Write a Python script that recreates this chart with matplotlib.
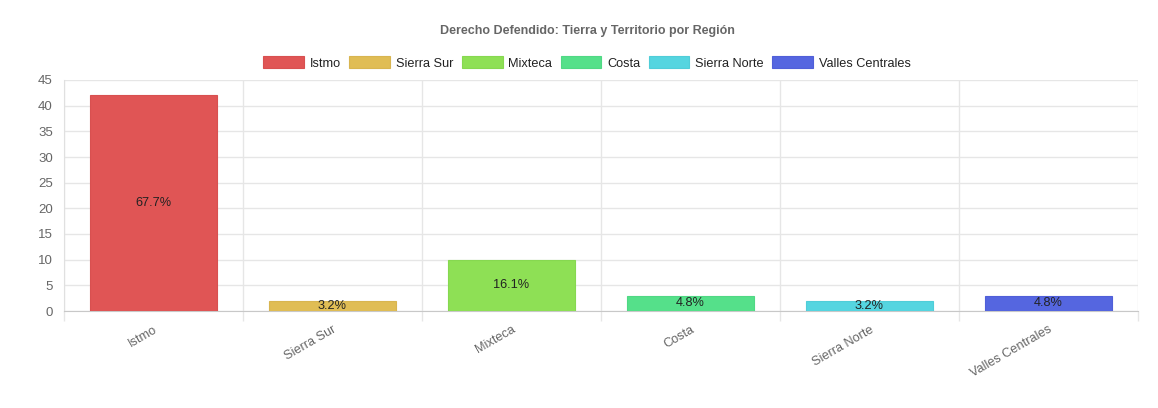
import matplotlib
matplotlib.use("Agg")
import matplotlib.pyplot as plt
from matplotlib.patches import Patch
import numpy as np

regions = ["Istmo", "Sierra Sur", "Mixteca", "Costa", "Sierra Norte", "Valles Centrales"]
counts = [42, 2, 10, 3, 2, 3]
percent_labels = ["67.7%", "3.2%", "16.1%", "4.8%", "3.2%", "4.8%"]
fill_colors = ["#e05555", "#e0bd55", "#8ee055", "#55e08a", "#55d5e0", "#5566e0"]
edge_colors = ["#d85050", "#d8b550", "#86d850", "#50d884", "#50cdd8", "#505fd8"]
y_ticks = [0, 5, 10, 15, 20, 25, 30, 35, 40, 45]

plt.rcParams["font.family"] = ["Liberation Sans", "DejaVu Sans"]

fig = plt.figure(figsize=(11.58, 4.08), dpi=100)
W, H = 1158, 408
left, right, top, bottom = 64, 1138, 80, 311
ax = fig.add_axes([left / W, (H - bottom) / H, (right - left) / W, (bottom - top) / H])

x = np.arange(len(regions))
bars = ax.bar(x, counts, width=0.71, color=fill_colors, edgecolor=edge_colors, linewidth=0.8, zorder=3)
for bar, lab in zip(bars, percent_labels):
    ax.text(bar.get_x() + bar.get_width() / 2, bar.get_height() / 2, lab,
            ha="center", va="center", fontsize=9.2, color="#222222", zorder=4)

ax.set_xlim(-0.5, len(regions) - 0.5)
ax.set_ylim(0, 45)
ax.set_yticks(y_ticks)
ax.set_xticks(x)
ax.set_xticklabels(regions, rotation=30, ha="right", rotation_mode="anchor",
                   fontsize=9.2, color="#666666")
ax.set_xticks(np.arange(-0.5, len(regions)), minor=True)
ax.tick_params(axis="x", which="major", length=0, pad=9)
ax.tick_params(axis="x", which="minor", length=7, color="#e6e6e6", width=1)
ax.tick_params(axis="y", length=0, pad=8, labelsize=9.5, labelcolor="#666666")

ax.grid(True, axis="y", color="#e6e6e6", linewidth=1, zorder=0)
ax.grid(True, axis="x", which="minor", color="#e6e6e6", linewidth=1, zorder=0)
ax.grid(False, axis="x", which="major")
for side in ["top", "right"]:
    ax.spines[side].set_visible(False)
ax.spines["left"].set_color("#e0e0e0")
ax.spines["bottom"].set_color("#c8c8c8")

cx = 587 / W
fig.text(cx, 1 - 31 / H, "Derecho Defendido: Tierra y Territorio por Región",
         ha="center", va="center", fontsize=9, fontweight="bold", color="#666666")

handles = [Patch(facecolor=fc, edgecolor=ec, linewidth=0.8) for fc, ec in zip(fill_colors, edge_colors)]
fig.legend(handles, regions, loc="center", bbox_to_anchor=(cx, 1 - 63 / H), ncol=6,
           frameon=False, fontsize=9.2, handlelength=3.2, handleheight=1.0,
           handletextpad=0.45, columnspacing=0.65, labelcolor="#222222")

fig.savefig("out.png", dpi=100)
